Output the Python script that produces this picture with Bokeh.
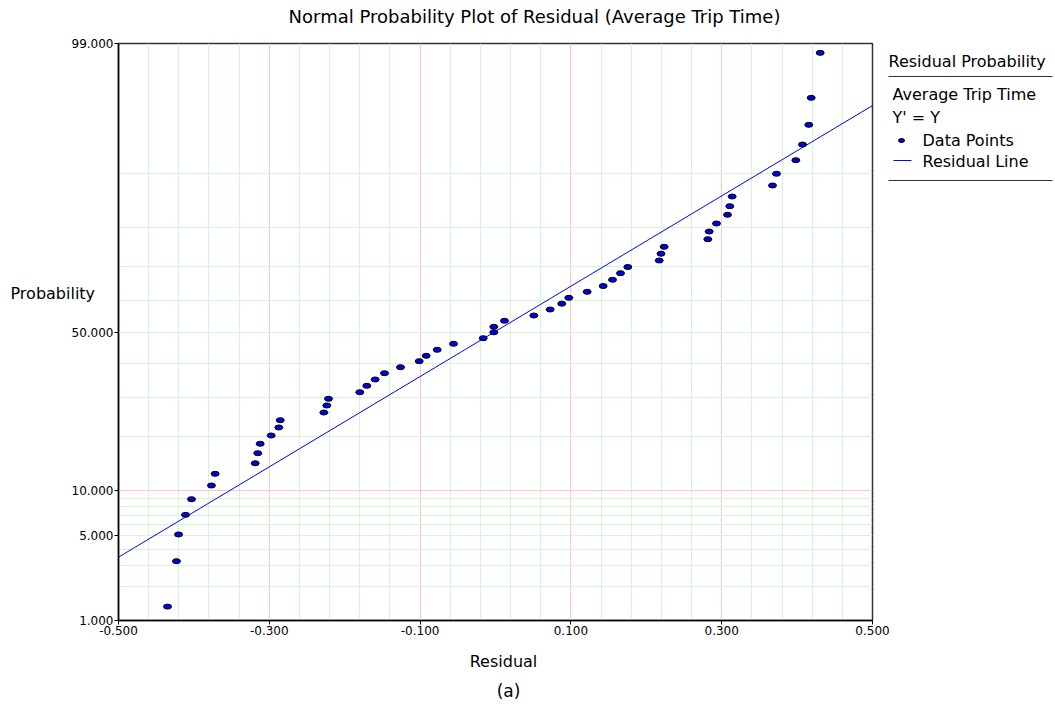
from statistics import NormalDist
from bokeh.plotting import figure
from bokeh.models import Range1d, FixedTicker, PrintfTickFormatter, ColumnDataSource
from bokeh.core.properties import value
from bokeh.embed import file_html
from bokeh.resources import INLINE

# ---- data ----
residual = [-0.4350, -0.4231, -0.4204, -0.4111, -0.4032, -0.3767, -0.3718, -0.3187, -0.3153, -0.3121,
            -0.2975, -0.2874, -0.2855, -0.2277, -0.2237, -0.2215, -0.1800, -0.1707, -0.1596, -0.1472,
            -0.1260, -0.1012, -0.0919, -0.0773, -0.0557, -0.0163, -0.0022, -0.0022, 0.0119, 0.0508,
            0.0725, 0.0879, 0.0972, 0.1216, 0.1428, 0.1552, 0.1658, 0.1755, 0.2171, 0.2195,
            0.2237, 0.2816, 0.2834, 0.2931, 0.3077, 0.3107, 0.3139, 0.3674, 0.3727, 0.3983,
            0.4072, 0.4155, 0.4187, 0.4306]
probability = [1.34, 3.23, 5.13, 7.02, 8.88, 10.79, 12.64, 14.50, 16.42, 18.37,
               20.20, 22.07, 23.85, 25.81, 27.67, 29.51, 31.37, 33.22, 35.09, 36.99,
               38.83, 40.70, 42.39, 44.29, 46.21, 48.01, 49.90, 51.67, 53.60, 55.29,
               57.20, 59.03, 60.86, 62.71, 64.46, 66.31, 68.23, 69.99, 71.79, 73.61,
               75.40, 77.29, 79.11, 80.92, 82.77, 84.48, 86.27, 88.13, 89.90, 91.70,
               93.47, 95.26, 97.05, 98.78]
line_mu = -0.0014
line_sigma = 0.2746
x_ticks = [-0.5, -0.3, -0.1, 0.1, 0.3, 0.5]
x_grid_major = [-0.3, -0.1, 0.1, 0.3]
x_grid_minor = [-0.46, -0.42, -0.38, -0.34, -0.26, -0.22, -0.18, -0.14, -0.06, -0.02,
                0.02, 0.06, 0.14, 0.18, 0.22, 0.26, 0.34, 0.38, 0.42, 0.46]
y_ticks_pct = [1, 5, 10, 50, 99]
y_tick_labels = ["1.000", "5.000", "10.000", "50.000", "99.000"]
y_grid_major_pct = [10]
y_grid_minor_pct = [2, 3, 4, 5, 6, 7, 8, 9, 20, 30, 40, 50, 60, 70, 80, 90]

title_text = "Normal Probability Plot of Residual (Average Trip Time)"
x_label = "Residual"
y_label = "Probability"
caption = "(a)"
legend_title = "Residual Probability"
legend_lines = ["Average Trip Time", "Y' = Y"]
legend_entries = ["Data Points", "Residual Line"]

nd = NormalDist()
def zq(p):
    return nd.inv_cdf(p / 100.0)

FONT = "DejaVu Sans"
PINK = "#ffc6c6"
GREEN = "#d3f5d3"
BLUE = "#0000ff"
DOT = "#0000e0"

W_L, W_R, W_T, W_B = 118, 183, 43, 91
FW, FH = 754, 577

p = figure(frame_width=FW, frame_height=FH,
           min_border_left=W_L, min_border_right=W_R, min_border_top=W_T, min_border_bottom=W_B,
           x_range=Range1d(-0.5, 0.5), y_range=Range1d(zq(1), zq(99)),
           output_backend="svg", toolbar_location=None, tools="")
# page-pixel coordinate system for the texts around the frame
p.extra_x_ranges = {"px": Range1d(W_L, W_L + FW)}
p.extra_y_ranges = {"py": Range1d(W_T + FH, W_T)}

p.background_fill_color = "white"
p.border_fill_color = "white"
p.outline_line_color = "#333333"
p.outline_line_width = 1.5

# axes
p.xaxis.ticker = FixedTicker(ticks=x_ticks, minor_ticks=[])
p.xaxis.formatter = PrintfTickFormatter(format="%.3f")
yt = [zq(v) for v in y_ticks_pct]
p.yaxis.ticker = FixedTicker(ticks=yt, minor_ticks=[])
p.yaxis.major_label_overrides = {t: s for t, s in zip(yt, y_tick_labels)}
for ax in (p.xaxis[0], p.yaxis[0]):
    ax.axis_line_color = "black"
    ax.axis_line_width = 1.5
    ax.major_tick_line_color = "black"
    ax.major_tick_out = 4
    ax.major_tick_in = 0
    ax.minor_tick_out = 0
    ax.minor_tick_in = 0
    ax.major_label_text_font = FONT
    ax.major_label_text_font_size = "12px"
    ax.major_label_text_color = "black"
    ax.major_label_standoff = 1

# grids
p.xgrid.ticker = FixedTicker(ticks=x_grid_major, minor_ticks=x_grid_minor)
p.xgrid.grid_line_color = PINK
p.xgrid.minor_grid_line_color = GREEN
p.ygrid.ticker = FixedTicker(ticks=[zq(v) for v in y_grid_major_pct],
                             minor_ticks=[zq(v) for v in y_grid_minor_pct])
p.ygrid.grid_line_color = PINK
p.ygrid.minor_grid_line_color = GREEN

# residual line
lx = [-0.5, 0.5]
ly = [(v - line_mu) / line_sigma for v in lx]
p.line(lx, ly, line_color=BLUE, line_width=1)

# data points
src = ColumnDataSource(dict(x=residual, y=[zq(v) for v in probability]))
p.ellipse(x="x", y="y", width=8, height=5, width_units="screen", height_units="screen",
          source=src, fill_color=DOT, line_color="black", line_width=1)

# texts around the frame (page pixel coords, drawn at overlay level so they are not clipped)
def txt(texts, xs, ys, size, align="left"):
    p.text(x=xs, y=ys, text=texts, text_font=value(FONT), text_font_size=value(size),
           text_color="black", text_align=align, text_baseline="middle",
           x_range_name="px", y_range_name="py", level="overlay")

txt([title_text], [534], [16], "18px", "center")
txt([y_label], [10], [293], "16px", "left")
txt([x_label], [503], [661], "16px", "center")
txt([caption], [508], [690], "17px", "center")

# legend block
txt([legend_title], [888], [61], "16px")
txt(legend_lines, [892, 892], [94, 117], "16px")
txt(legend_entries, [922, 922], [140, 161], "16px")
p.segment(x0=[888, 888], y0=[76, 180], x1=[1052, 1052], y1=[76, 180],
          line_color="#333333", line_width=1, x_range_name="px", y_range_name="py", level="overlay")
p.segment(x0=[893], y0=[160], x1=[911], y1=[160], line_color=BLUE, line_width=1,
          x_range_name="px", y_range_name="py", level="overlay")
p.ellipse(x=[901], y=[140], width=6, height=4, width_units="screen", height_units="screen",
          fill_color=DOT, line_color="black", line_width=1,
          x_range_name="px", y_range_name="py", level="overlay")

open("out.html", "w").write(file_html(p, INLINE))
